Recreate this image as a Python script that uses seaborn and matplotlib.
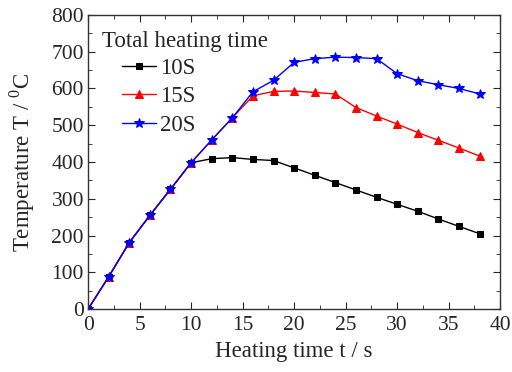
import matplotlib
matplotlib.use("Agg")
import matplotlib.pyplot as plt
import seaborn as sns
import pandas as pd
from matplotlib.ticker import MultipleLocator

sns.set_style("ticks")
plt.rcParams['font.family'] = ['Liberation Serif', 'DejaVu Serif']
plt.rcParams['mathtext.fontset'] = 'custom'
plt.rcParams['mathtext.rm'] = 'Liberation Serif'

time = [0, 2, 4, 6, 8, 10, 12, 14, 16, 18, 20, 22, 24, 26, 28, 30, 32, 34, 36, 38]
t10 = [0, 88, 181, 255, 326, 398, 409, 412, 407, 404, 384, 364, 344, 324, 304, 285, 266, 245, 225, 205]
t15 = [0, 88, 181, 255, 326, 398, 460, 520, 580, 592, 593, 589, 585, 548, 525, 503, 480, 459, 438, 416]
t20 = [0, 88, 181, 255, 326, 398, 460, 520, 591, 622, 671, 681, 685, 684, 681, 640, 621, 610, 600, 585]
labels = ["10S", "15S", "20S"]
colors = ["black", "red", "blue"]
markers = ["s", "^", "*"]
sizes = [5, 6, 7.5]

fig = plt.figure(figsize=(5.12, 3.72), dpi=100)
ax = fig.add_axes([0.172, 0.169, 0.805, 0.791])

for vals, lab, c, m, ms in zip([t10, t15, t20], labels, colors, markers, sizes):
    df = pd.DataFrame({"t": time, "T": vals})
    sns.lineplot(data=df, x="t", y="T", ax=ax, color=c, marker=m, markersize=ms,
                 markeredgecolor=c, linewidth=1, label=lab)

ax.set_xlim(0, 40)
ax.set_ylim(0, 800)
ax.xaxis.set_major_locator(MultipleLocator(5))
ax.xaxis.set_minor_locator(MultipleLocator(2.5))
ax.yaxis.set_major_locator(MultipleLocator(100))
ax.yaxis.set_minor_locator(MultipleLocator(50))
ax.tick_params(which='both', direction='in', top=True, right=True, labelsize=15.5)
ax.tick_params(axis='x', pad=5)
ax.tick_params(axis='y', pad=3)
ax.tick_params(which='major', length=5)
ax.tick_params(which='minor', length=3)
for s in ax.spines.values():
    s.set_linewidth(1)
    s.set_color("#333333")
ax.set_xlabel("Heating time t / s", fontsize=16.5, labelpad=4)
ax.set_ylabel("Temperature T / $^0$C", fontsize=16.5, labelpad=10)

ax.text(0.034, 0.91, "Total heating time", transform=ax.transAxes,
        fontsize=16.5, ha="left", va="center")
leg = ax.legend(loc="upper left", bbox_to_anchor=(0.083, 0.855), frameon=False,
                fontsize=16.5, handlelength=1.45, handletextpad=0.2,
                borderaxespad=0, borderpad=0, labelspacing=0.33)

fig.savefig("out.png", dpi=100)
